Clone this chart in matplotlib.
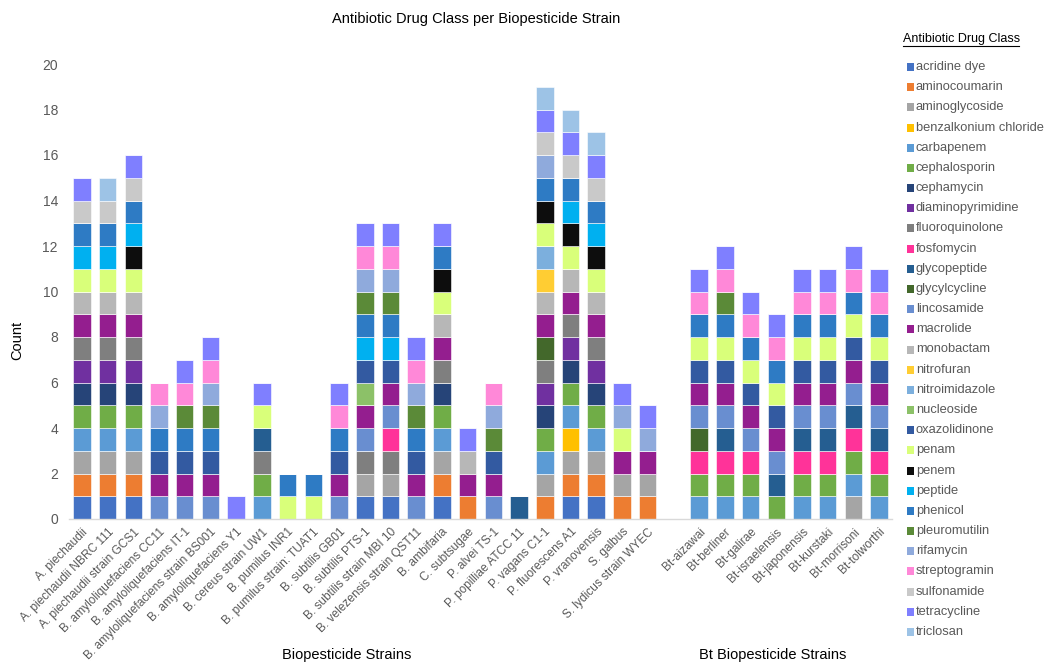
import matplotlib
matplotlib.use('Agg')
from matplotlib import pyplot as plt
from matplotlib.patches import Rectangle
from matplotlib.lines import Line2D
import numpy as np

plt.rcParams['font.family'] = ['Liberation Sans', 'DejaVu Sans']

strains = [
    'A. piechaudii', 'A. piechaudii NBRC 111', 'A. piechaudii strain GCS1',
    'B. amyloliquefaciens CC11', 'B. amyloliquefaciens IT-1',
    'B. amyloliquefaciens strain BS001', 'B. amyloliquefaciens Y1',
    'B. cereus strain UW1', 'B. pumilus INR1', 'B. pumilus strain: TUAT1',
    'B. subtilis GB01', 'B. subtilis PTS-1', 'B. subtilis strain MBI 10',
    'B. velezensis strain QST11', 'B. ambifaria', 'C. subtsugae',
    'P. alvei TS-1', 'P. popilliae ATCC 11', 'P. vagans C1-1',
    'P. fluorescens A1', 'P. vranovensis', 'S. galbus',
    'S. lydicus strain WYEC', '',
    'Bt-aizawai', 'Bt-berliner', 'Bt-galirae', 'Bt-israelensis',
    'Bt-japonensis', 'Bt-kurstaki', 'Bt-morrisoni', 'Bt-tolworthi',
]

# one count per strain (same order as above) for every drug class
acridine_dye         = [1,1,1,0,0,0,0,0,0,0,0,1,1,0,1,0,0,0,0,1,1,0,0,0, 0,0,0,0,0,0,0,0]
aminocoumarin        = [1,1,1,0,0,0,0,0,0,0,0,0,0,0,1,1,0,0,1,1,1,1,1,0, 0,0,0,0,0,0,0,0]
aminoglycoside       = [1,1,1,0,0,0,0,0,0,0,0,1,1,0,1,0,0,0,1,1,1,1,1,0, 0,0,0,0,0,0,1,0]
benzalkonium_chlor   = [0,0,0,0,0,0,0,0,0,0,0,0,0,0,0,0,0,0,0,1,0,0,0,0, 0,0,0,0,0,0,0,0]
carbapenem           = [1,1,1,0,0,0,0,1,0,0,0,0,0,0,1,0,0,0,1,1,1,0,0,0, 1,1,1,0,1,1,1,1]
cephalosporin        = [1,1,1,0,0,0,0,1,0,0,0,0,0,0,1,0,0,0,1,1,1,0,0,0, 1,1,1,1,1,1,1,1]
cephamycin           = [1,1,1,0,0,0,0,0,0,0,0,0,0,0,1,0,0,0,1,1,1,0,0,0, 0,0,0,0,0,0,0,0]
diaminopyrimidine    = [1,1,1,0,0,0,0,0,0,0,0,0,0,0,0,0,0,0,1,1,1,0,0,0, 0,0,0,0,0,0,0,0]
fluoroquinolone      = [1,1,1,0,0,0,0,1,0,0,0,1,1,0,1,0,0,0,1,1,1,0,0,0, 0,0,0,0,0,0,0,0]
fosfomycin           = [0,0,0,0,0,0,0,0,0,0,0,0,1,0,0,0,0,0,0,0,0,0,0,0, 1,1,1,0,1,1,1,1]
glycopeptide         = [0,0,0,0,0,0,0,1,0,0,0,0,0,0,0,0,0,1,0,0,0,0,0,0, 0,1,0,1,1,1,1,1]
glycylcycline        = [0,0,0,0,0,0,0,0,0,0,0,0,0,0,0,0,0,0,1,0,0,0,0,0, 1,0,0,0,0,0,0,0]
lincosamide          = [0,0,0,1,1,1,0,0,0,0,1,1,1,1,0,0,1,0,0,0,0,0,0,0, 1,1,1,1,1,1,1,1]
macrolide            = [1,1,1,1,1,1,0,0,0,0,1,1,1,1,1,1,1,0,1,1,1,1,1,0, 1,1,1,1,1,1,1,1]
monobactam           = [1,1,1,0,0,0,0,0,0,0,0,0,0,0,1,1,0,0,1,1,1,0,0,0, 0,0,0,0,0,0,0,0]
nitrofuran           = [0,0,0,0,0,0,0,0,0,0,0,0,0,0,0,0,0,0,1,0,0,0,0,0, 0,0,0,0,0,0,0,0]
nitroimidazole       = [0,0,0,0,0,0,0,0,0,0,0,0,0,0,0,0,0,0,1,0,0,0,0,0, 0,0,0,0,0,0,0,0]
nucleoside           = [0,0,0,0,0,0,0,0,0,0,0,1,0,0,0,0,0,0,0,0,0,0,0,0, 0,0,0,0,0,0,0,0]
oxazolidinone        = [0,0,0,1,1,1,0,0,0,0,1,1,1,1,0,0,1,0,0,0,0,0,0,0, 1,1,1,1,1,1,1,1]
penam                = [1,1,1,0,0,0,0,1,1,1,0,0,0,0,1,0,0,0,1,1,1,1,0,0, 1,1,1,1,1,1,1,1]
penem                = [0,0,1,0,0,0,0,0,0,0,0,0,0,0,1,0,0,0,1,1,1,0,0,0, 0,0,0,0,0,0,0,0]
peptide              = [1,1,1,0,0,0,0,0,0,0,0,1,1,0,0,0,0,0,0,1,1,0,0,0, 0,0,0,0,0,0,0,0]
phenicol             = [1,1,1,1,1,1,0,0,1,1,1,1,1,1,1,0,0,0,1,1,1,0,0,0, 1,1,1,1,1,1,1,1]
pleuromutilin        = [0,0,0,0,1,1,0,0,0,0,0,1,1,1,0,0,1,0,0,0,0,0,0,0, 0,1,0,0,0,0,0,0]
rifamycin            = [0,0,0,1,0,1,0,0,0,0,0,1,1,1,0,0,1,0,1,0,0,1,1,0, 0,0,0,0,0,0,0,0]
streptogramin        = [0,0,0,1,1,1,0,0,0,0,1,1,1,1,0,0,1,0,0,0,0,0,0,0, 1,1,1,1,1,1,1,1]
sulfonamide          = [1,1,1,0,0,0,0,0,0,0,0,0,0,0,0,0,0,0,1,1,1,0,0,0, 0,0,0,0,0,0,0,0]
tetracycline         = [1,0,1,0,1,1,1,1,0,0,1,1,1,1,1,1,0,0,1,1,1,1,1,0, 1,1,1,1,1,1,1,1]
triclosan            = [0,1,0,0,0,0,0,0,0,0,0,0,0,0,0,0,0,0,1,1,1,0,0,0, 0,0,0,0,0,0,0,0]

classes = [
    ('acridine dye', acridine_dye, '#4472C4'),
    ('aminocoumarin', aminocoumarin, '#ED7D31'),
    ('aminoglycoside', aminoglycoside, '#A5A5A5'),
    ('benzalkonium chloride', benzalkonium_chlor, '#FFC000'),
    ('carbapenem', carbapenem, '#5B9BD5'),
    ('cephalosporin', cephalosporin, '#70AD47'),
    ('cephamycin', cephamycin, '#264478'),
    ('diaminopyrimidine', diaminopyrimidine, '#7030A0'),
    ('fluoroquinolone', fluoroquinolone, '#7F7F7F'),
    ('fosfomycin', fosfomycin, '#FF3399'),
    ('glycopeptide', glycopeptide, '#255E91'),
    ('glycylcycline', glycylcycline, '#43682B'),
    ('lincosamide', lincosamide, '#698ED0'),
    ('macrolide', macrolide, '#941E8F'),
    ('monobactam', monobactam, '#B7B7B7'),
    ('nitrofuran', nitrofuran, '#FFCD33'),
    ('nitroimidazole', nitroimidazole, '#7CAFDD'),
    ('nucleoside', nucleoside, '#8CC168'),
    ('oxazolidinone', oxazolidinone, '#335AA1'),
    ('penam', penam, '#D9FF7A'),
    ('penem', penem, '#0D0D0D'),
    ('peptide', peptide, '#00B0F0'),
    ('phenicol', phenicol, '#2E7BC4'),
    ('pleuromutilin', pleuromutilin, '#5B8A38'),
    ('rifamycin', rifamycin, '#8FAADC'),
    ('streptogramin', streptogramin, '#FF88D8'),
    ('sulfonamide', sulfonamide, '#C9C9C9'),
    ('tetracycline', tetracycline, '#7F7FFF'),
    ('triclosan', triclosan, '#9DC3E6'),
]

W, H = 1047, 662
fig = plt.figure(figsize=(W / 100, H / 100), dpi=100)
ax = fig.add_axes([69 / W, 1 - 519 / H, (892 - 69) / W, (519 - 64) / H])

x = np.arange(len(strains))
bottom = np.zeros(len(strains))
for name, vals, col in classes:
    vals = np.array(vals, dtype=float)
    ax.bar(x, vals, 0.68, bottom=bottom, color=col, edgecolor='white',
           linewidth=0.4, label=name)
    bottom += vals

ax.set_xlim(-0.5, len(strains) - 0.5)
ax.set_ylim(0, 20)
ax.set_yticks(range(0, 21, 2))
ax.tick_params(axis='y', length=0, pad=8, labelsize=10, labelcolor='#595959')
ax.set_xticks(x)
ax.set_xticklabels(strains, rotation=45, ha='right', rotation_mode='anchor')
ax.tick_params(axis='x', length=0, pad=5, labelsize=8.6, labelcolor='#595959')
for s in ['top', 'right', 'left']:
    ax.spines[s].set_visible(False)
ax.spines['bottom'].set_color('#D9D9D9')
ax.spines['bottom'].set_linewidth(1)

fig.text(476 / W, 1 - 19 / H, 'Antibiotic Drug Class per Biopesticide Strain',
         ha='center', va='center', fontsize=10.5, color='black')
fig.text(17 / W, 1 - 340 / H, 'Count', rotation=90, ha='center', va='center',
         fontsize=10.5, color='black')
fig.text(347 / W, 1 - 655 / H, 'Biopesticide Strains', ha='center', va='center',
         fontsize=10.5, color='black')
fig.text(773 / W, 1 - 655 / H, 'Bt Biopesticide Strains', ha='center',
         va='center', fontsize=10.5, color='black')

# legend drawn by hand so the rows line up with the plot height
fig.text(903 / W, 1 - 39 / H, 'Antibiotic Drug Class', ha='left',
         va='center', fontsize=9, color='black')
fig.add_artist(Line2D([903 / W, 1019 / W], [1 - 46 / H, 1 - 46 / H],
                      color='black', linewidth=0.8))
y0, dy = 67, (632 - 67) / (len(classes) - 1)
for i, (name, vals, col) in enumerate(classes):
    yc = y0 + i * dy
    fig.add_artist(Rectangle((907 / W, 1 - (yc + 4) / H), 7 / W, 8 / H,
                             facecolor=col, edgecolor='none',
                             transform=fig.transFigure))
    fig.text(916 / W, 1 - yc / H, name, ha='left', va='center',
             fontsize=9.3, color='#595959')

fig.savefig('out.png', dpi=100)
